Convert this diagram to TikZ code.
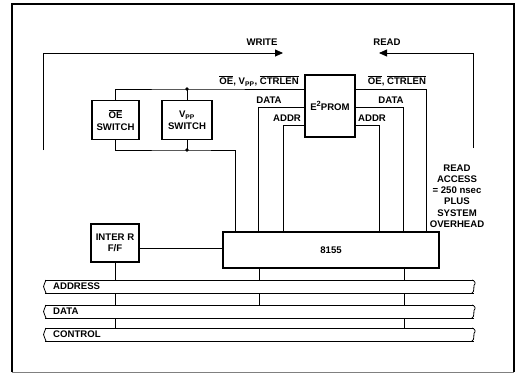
\documentclass[tikz,border=0pt]{standalone}
\usepackage{fontspec}
\setmainfont{Liberation Sans}
\usetikzlibrary{arrows.meta}
\newcommand\ovl[1]{$\overline{\mbox{#1}}$}
\newcommand\sqtwo{\raisebox{3.2pt}{\fontsize{7.5}{8}\selectfont 2}}
\begin{document}
\begin{tikzpicture}[x=1pt,y=-1pt,
  lbl/.style={font=\fontsize{9.6}{10.5}\selectfont\bfseries, inner sep=0pt},
  box/.style={draw, line width=1.2pt, inner sep=0pt, align=center, font=\fontsize{9.6}{11.5}\selectfont\bfseries},
  wire/.style={line width=0.8pt},
  arr/.style={wire, -{Triangle[length=8pt,width=7pt]}},
  busline/.style={line width=0.8pt},
  dotc/.style={circle, fill, inner sep=0pt, minimum size=3.6pt}
]
\useasboundingbox (0,0) rectangle (518,373);
% frame
\draw[line width=1.8pt] (12,372) -- (12,4) -- (514,4) -- (514,372);
\draw[line width=0.5pt, gray] (12,372) -- (514,372);

% boxes
\node[box, minimum width=47pt, minimum height=39pt] (oesw) at (115.5,120) {\ovl{OE}\\SWITCH};
\node[box, minimum width=50pt, minimum height=39pt] (vppsw) at (187,120) {V\textsubscript{PP}\\SWITCH};
\node[box, minimum width=50pt, minimum height=62pt] (eprom) at (330,106) {E\sqtwo PROM};
\node[box, minimum width=216pt, minimum height=36pt] (ic) at (331,250) {8155};
\node[box, minimum width=48pt, minimum height=38pt] (inter) at (115,243) {INTER R\\F/F};

% write / read loops
\coordinate (w0) at (43,150);
\coordinate (w1) at (283,53);
\draw[arr] (w0) |- (w1);
\node[lbl] (wlab) at (262,42) {WRITE};
\coordinate (r0) at (473,148);
\coordinate (r1) at (379,53);
\draw[arr] (r0) |- (r1);
\node[lbl] (rlab) at (387,42) {READ};

% switch wiring
\coordinate (j1) at (187,89);
\coordinate (j2) at (187,150);
\coordinate (b1) at (235,150);
\draw[wire] (oesw.north) |- (j1) -- (eprom.west |- j1);
\draw[wire] (vppsw.north) -- (j1);
\draw[wire] (oesw.south) |- (j2) -- (b1) -- (b1 |- ic.north);
\draw[wire] (vppsw.south) -- (j2);
\node[dotc] (d1) at (j1) {};
\node[dotc] (d2) at (j2) {};
\node[lbl, anchor=east] (ctl1) at (299,81) {\ovl{OE}, V\textsubscript{PP}, \ovl{CTRLEN}};

% E2PROM left buses
\coordinate (dl) at (258,107);
\coordinate (al) at (283,125);
\draw[wire] (eprom.west |- dl) -- (dl) -- (dl |- ic.north);
\draw[wire] (eprom.west |- al) -- (al) -- (al |- ic.north);
\node[lbl] (dlab) at (269,100) {DATA};
\node[lbl] (alab) at (287,118) {ADDR};

% E2PROM right buses
\coordinate (cr) at (426,89);
\coordinate (dr) at (403,107);
\coordinate (ar) at (379,125);
\draw[wire] (eprom.east |- cr) -- (cr) -- (cr |- ic.north);
\draw[wire] (eprom.east |- dr) -- (dr) -- (dr |- ic.north);
\draw[wire] (eprom.east |- ar) -- (ar) -- (ar |- ic.north);
\node[lbl] (ctl2) at (397,81) {\ovl{OE}, \ovl{CTRLEN}};
\node[lbl] (dlab2) at (391,100) {DATA};
\node[lbl] (alab2) at (372,118) {ADDR};

% read access note
\node[lbl, align=center, font=\fontsize{9.6}{11.3}\selectfont\bfseries] (note) at (457,196)
  {READ\\ACCESS\\= 250 nsec\\PLUS\\SYSTEM\\OVERHEAD};

% inter R to 8155
\coordinate (ir) at (139,248);
\draw[wire] (ir) -- (ir -| ic.west);

% buses
\foreach \t/\n/\name in {280/ADDRESS/abus, 305/DATA/dbus, 328/CONTROL/cbus}{
  \pgfmathsetmacro\b{\t+13}
  \pgfmathsetmacro\m{\t+6.5}
  \draw[busline] (45,\t) -- (474,\t);
  \draw[busline] (45,\b) -- (474,\b);
  \draw[busline] (46,\t) .. controls (44,\t+2) and (45,\t+5) .. (43.5,\m) .. controls (45,\t+8) and (44,\b-2) .. (46,\b);
  \draw[busline] (472,\t) .. controls (475,\t+1) and (476,\t+3) .. (474,\m-1) .. controls (473,\t+8) and (475,\b-2) .. (472,\b);
  \node[lbl, anchor=west] (\name) at (53,\m) {\n};
}

% vertical taps
\foreach \x in {115,404}{
  \draw[wire] (\x,293) -- (\x,305);
  \draw[wire] (\x,318) -- (\x,328);
}
\draw[wire] (inter.south) -- (115,280);
\draw[wire] (259,268) -- (259,280);
\draw[wire] (259,293) -- (259,305);
\draw[wire] (404,268) -- (404,280);
\end{tikzpicture}
\end{document}
